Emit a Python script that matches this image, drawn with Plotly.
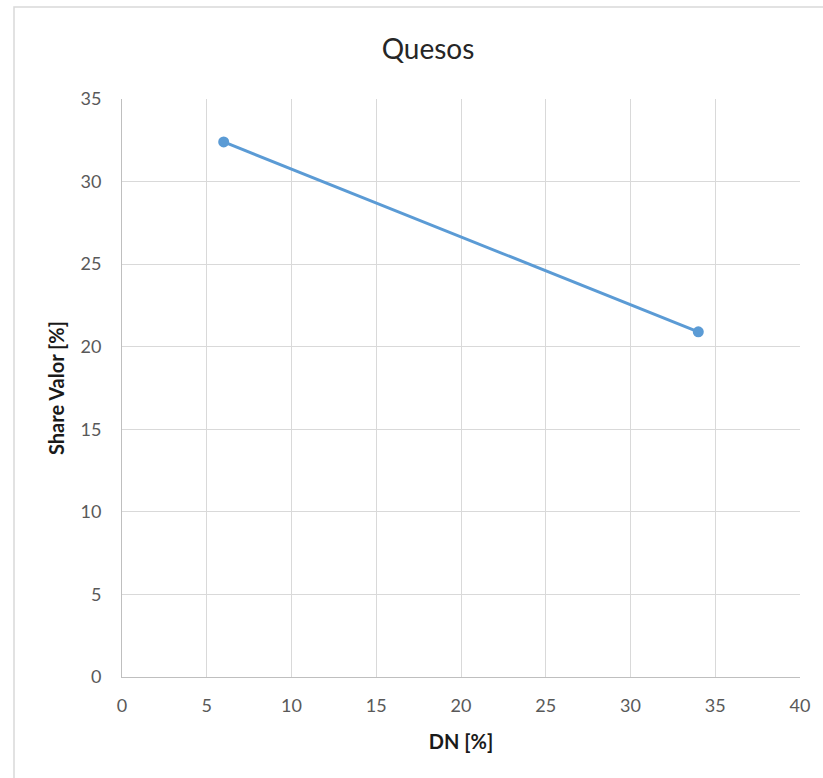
import plotly.graph_objects as go

# Data
dn_values = [6, 34]
share_values = [32.4, 20.9]
x_ticks = [0, 5, 10, 15, 20, 25, 30, 35, 40]
y_ticks = [0, 5, 10, 15, 20, 25, 30, 35]

W, H = 823, 778
L, R, T, B = 122, 23, 99, 101
pw = W - L - R
ph = H - T - B

fig = go.Figure()
fig.add_trace(go.Scatter(
    x=dn_values, y=share_values, mode="lines+markers",
    line=dict(color="#5b9bd5", width=3),
    marker=dict(color="#5b9bd5", size=11),
    showlegend=False,
))

font_fam = "Lato, 'Open Sans', sans-serif"

fig.update_layout(
    width=W, height=H,
    margin=dict(l=L, r=R, t=T, b=B),
    paper_bgcolor="white", plot_bgcolor="white",
    title=dict(text="Quesos", x=428 / W, xanchor="center", xref="container",
               y=1 - 49 / H, yanchor="middle", yref="container",
               font=dict(family=font_fam, size=28, color="#262626")),
    xaxis=dict(
        range=[0, 40], tickvals=x_ticks, showgrid=True, gridcolor="#d9d9d9",
        gridwidth=1, zeroline=False, showline=True, linecolor="#bfbfbf",
        linewidth=1, ticks="", ticklabelstandoff=12,
        tickfont=dict(family=font_fam, size=18, color="#595959"),
        title=dict(text="<b>DN [%]</b>", standoff=20,
                   font=dict(family=font_fam, size=20, color="#1a1a1a")),
        fixedrange=True,
    ),
    yaxis=dict(
        range=[0, 35], tickvals=y_ticks, showgrid=True, gridcolor="#d9d9d9",
        gridwidth=1, zeroline=False, showline=True, linecolor="#bfbfbf",
        linewidth=1, ticks="", ticklabelstandoff=16,
        tickfont=dict(family=font_fam, size=18, color="#595959"),
        title=dict(text="<b>Share Valor [%]</b>", standoff=10,
                   font=dict(family=font_fam, size=20, color="#1a1a1a")),
        fixedrange=True,
    ),
)

fig.add_shape(type="rect", xref="paper", yref="paper",
              x0=(14 - L) / pw, x1=(840 - L) / pw,
              y0=(H - B - 800) / ph, y1=(H - B - 7) / ph,
              line=dict(color="#d9d9d9", width=1.5), fillcolor="rgba(0,0,0,0)",
              layer="below")

fig.write_html("out.html", config={"displayModeBar": False},
               post_script="document.body.style.margin='0';document.body.style.overflow='hidden';")
